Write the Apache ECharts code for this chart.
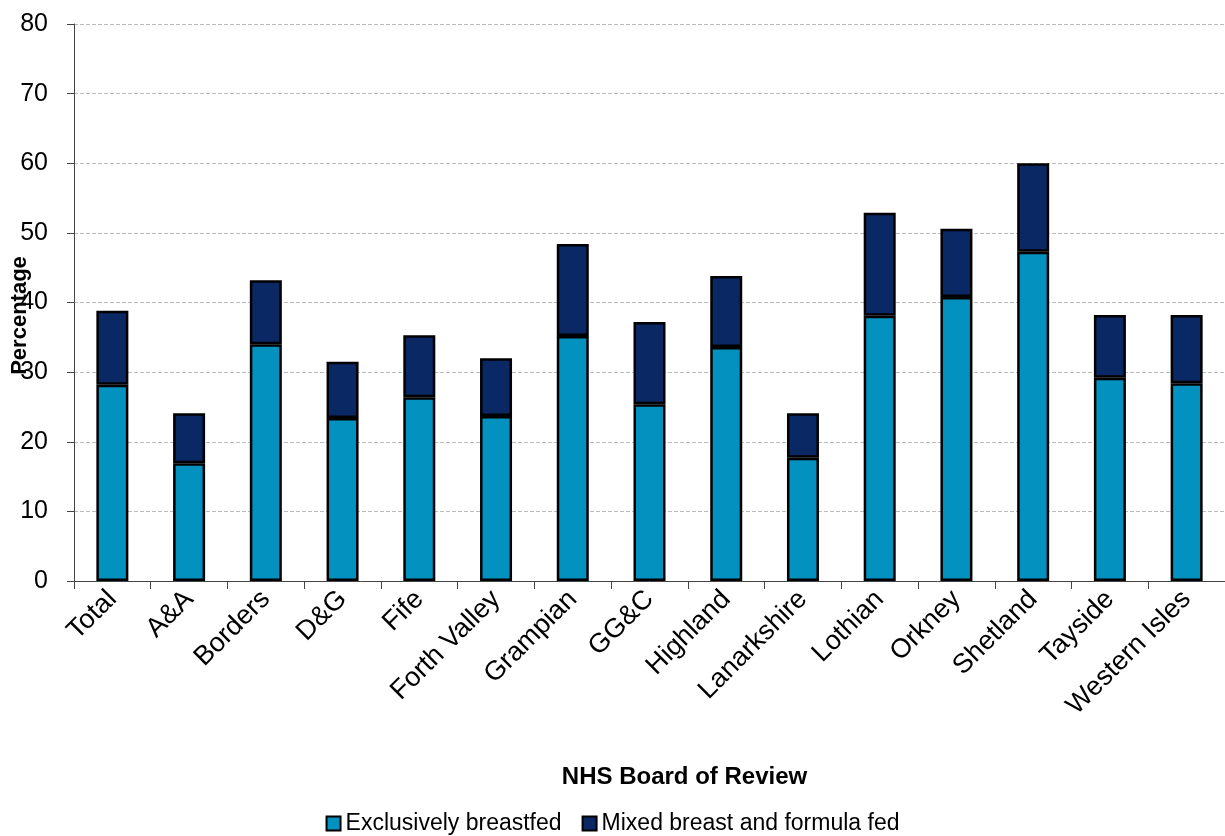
<!DOCTYPE html>
<html><head><meta charset="utf-8">
<script src="https://cdn.jsdelivr.net/npm/echarts@6/dist/echarts.min.js"></script>
<style>html,body{margin:0;padding:0;background:#fff}#c{width:1225px;height:836px}</style>
</head><body><div id="c"></div>
<script>
const categories = ["Total","A&A","Borders","D&G","Fife","Forth Valley","Grampian","GG&C","Highland","Lanarkshire","Lothian","Orkney","Shetland","Tayside","Western Isles"];
const exclusive = [28.2,16.9,34.0,23.4,26.4,23.7,35.2,25.4,33.6,17.7,38.1,40.8,47.3,29.2,28.4];
const mixed = [10.6,7.2,9.2,8.1,8.9,8.3,13.2,11.8,10.2,6.4,14.8,9.8,12.7,9.0,9.8];
const seriesNames = ["Exclusively breastfed","Mixed breast and formula fed"];
const yTicks = {min:0, max:80, interval:10};

const font = "Liberation Sans, Arial, sans-serif";
const chart = echarts.init(document.getElementById('c'));
chart.setOption({
  animation:false,
  grid:{left:74, right:0, top:24, bottom:255, containLabel:false, outerBoundsMode:'none'},
  legend:{
    top:807, left:'center', itemWidth:14, itemHeight:14, itemGap:20,
    textStyle:{fontFamily:font, fontSize:23, color:'#000'},
    data:seriesNames.map(n=>({name:n, icon:'rect', itemStyle:{borderColor:'#000', borderWidth:2}}))
  },
  xAxis:{
    type:'category', data:categories,
    axisLine:{lineStyle:{color:'#444', width:1}},
    axisTick:{show:true, length:8, lineStyle:{color:'#444'}},
    axisLabel:{rotate:45, interval:0, fontFamily:font, fontSize:27, color:'#000', margin:14},
    name:'NHS Board of Review', nameLocation:'middle', nameGap:184,
    nameTextStyle:{fontFamily:font, fontSize:24, fontWeight:'bold', color:'#000', padding:[0,0,0,70]}
  },
  yAxis:{
    type:'value', min:yTicks.min, max:yTicks.max, interval:yTicks.interval,
    axisLine:{show:true, lineStyle:{color:'#444'}},
    axisTick:{show:true, length:7, inside:false, lineStyle:{color:'#444'}},
    axisLabel:{fontFamily:font, fontSize:25, color:'#000', margin:26},
    splitLine:{lineStyle:{color:'#bbb', type:'dashed', width:1}},
    name:'Percentage', nameLocation:'middle', nameGap:43, nameRotate:90, nameMoveOverlap:false,
    nameTextStyle:{fontFamily:font, fontSize:22, fontWeight:'bold', color:'#000', padding:[0,26,0,0]}
  },
  series:[
    {name:seriesNames[0], type:'bar', stack:'a', data:exclusive, barWidth:32,
     itemStyle:{color:'#0391BF', borderColor:'#000', borderWidth:2.5}},
    {name:seriesNames[1], type:'bar', stack:'a', data:mixed, barWidth:32,
     itemStyle:{color:'#0A2864', borderColor:'#000', borderWidth:2.5}}
  ]
});
</script></body></html>
